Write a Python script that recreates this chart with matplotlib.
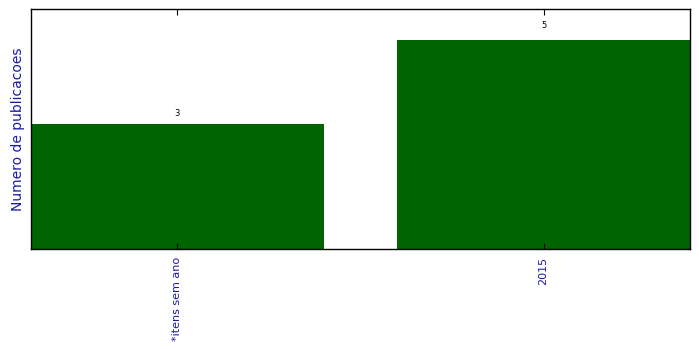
import matplotlib

matplotlib.use("Agg")

import matplotlib.pyplot as plt

categories = ["*itens sem ano", "2015"]
counts = [3, 5]


def main() -> None:
    fig = plt.figure(figsize=(6.99, 3.49), dpi=100)
    fig.patch.set_facecolor("white")
    ax = fig.add_axes([0.0443, 0.2865, 0.9428, 0.6877])

    positions = list(range(len(categories)))
    ax.bar(positions, counts, width=0.8, color="#006400", edgecolor="none")
    ax.set_xlim(-0.4, len(categories) - 0.6)
    ax.set_ylim(0, max(counts) * 1.15)

    for x, value in zip(positions, counts):
        ax.text(x, value * 1.05, str(value), ha="center", va="bottom", fontsize=6)

    ax.set_xticks(positions)
    ax.set_xticklabels(categories, rotation=90, color="#1a1aa6", fontsize=8)
    ax.set_yticks([])
    ax.tick_params(axis="x", direction="in", top=True, length=4, width=0.8, pad=6)
    ax.set_ylabel("Numero de publicacoes", color="#1a1aa6", fontsize=10)
    for spine in ax.spines.values():
        spine.set_linewidth(1.0)

    fig.savefig("out.png", dpi=100)
    plt.close(fig)


if __name__ == "__main__":
    main()
